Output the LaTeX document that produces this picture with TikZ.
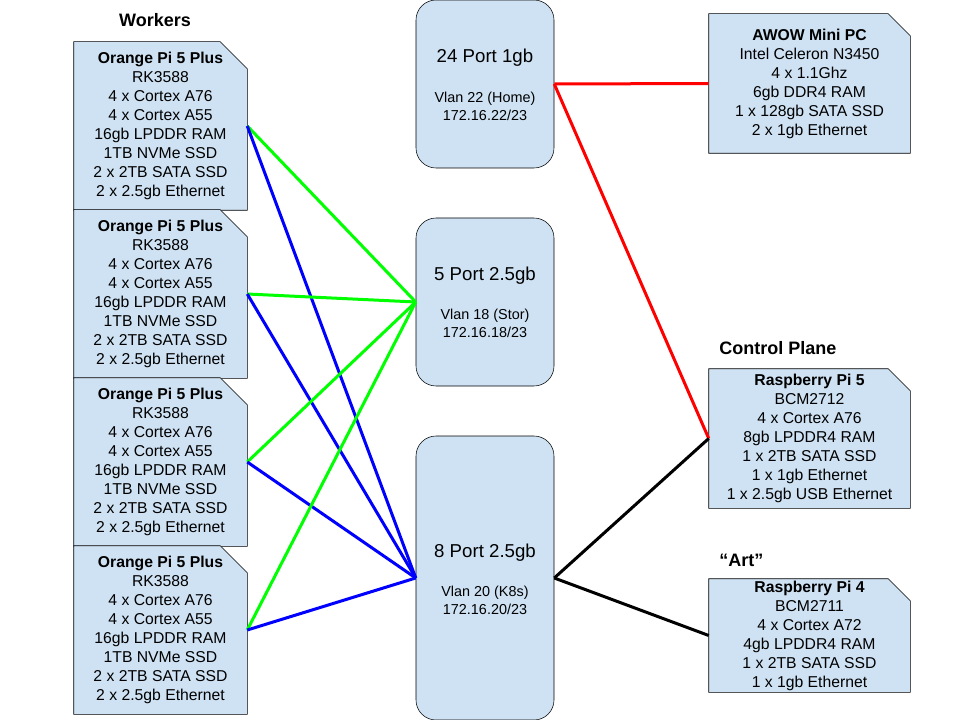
\documentclass[tikz,border=0pt]{standalone}
\usepackage{fontspec}
\setmainfont{Liberation Sans}
\usetikzlibrary{backgrounds}
\definecolor{cardblue}{HTML}{CFE2F3}
\definecolor{linkgreen}{HTML}{00FF00}
\definecolor{linkblue}{HTML}{0000FF}
\definecolor{linkred}{HTML}{FF0000}
\begin{document}
\begin{tikzpicture}
        [x=0.75pt, y=-0.75pt,
        card/.style={rectangle, inner sep=0pt, align=center, font=\fontsize{11.8}{14.25}\selectfont},
        cardLine/.style={draw, thin, fill=cardblue},
        worker/.style={card, minimum width=129.75pt, minimum height=126pt},
        host/.style={card, minimum width=150.75pt, minimum height=104.25pt},
        switch/.style={rectangle, rounded corners=15pt, draw, thin, fill=cardblue, minimum width=103.5pt, minimum height=126pt},
        switchTitle/.style={font=\fontsize{14}{17}\selectfont, inner sep=0pt},
        switchVlan/.style={font=\fontsize{10.8}{13.5}\selectfont, align=center, inner sep=0pt},
        heading/.style={font=\fontsize{13.5}{16}\selectfont\bfseries, inner sep=0pt},
        link/.style={line width=2.25pt}]
        \useasboundingbox (0,0) rectangle (960,720);

        % workers
        \node[heading] (workers) at (155,20) {Workers};
        \node[worker] (W1) at (160.5,126) {\textbf{Orange Pi 5 Plus}\\RK3588\\4 x Cortex A76\\4 x Cortex A55\\16gb LPDDR RAM\\1TB NVMe SSD\\2 x 2TB SATA SSD\\2 x 2.5gb Ethernet};
        \node[worker] (W2) at (160.5,294) {\textbf{Orange Pi 5 Plus}\\RK3588\\4 x Cortex A76\\4 x Cortex A55\\16gb LPDDR RAM\\1TB NVMe SSD\\2 x 2TB SATA SSD\\2 x 2.5gb Ethernet};
        \node[worker] (W3) at (160.5,462) {\textbf{Orange Pi 5 Plus}\\RK3588\\4 x Cortex A76\\4 x Cortex A55\\16gb LPDDR RAM\\1TB NVMe SSD\\2 x 2TB SATA SSD\\2 x 2.5gb Ethernet};
        \node[worker] (W4) at (160.5,630) {\textbf{Orange Pi 5 Plus}\\RK3588\\4 x Cortex A76\\4 x Cortex A55\\16gb LPDDR RAM\\1TB NVMe SSD\\2 x 2TB SATA SSD\\2 x 2.5gb Ethernet};

        % switches
        \node[switch] (S24) at (485,84) {};
        \node[switchTitle] (S24t) at (485,58) {24 Port 1gb};
        \node[switchVlan] (S24v) at (485,106) {Vlan 22 (Home)\\172.16.22/23};
        \node[switch] (S5) at (485,302) {};
        \node[switchTitle] (S5t) at (485,276) {5 Port 2.5gb};
        \node[switchVlan] (S5v) at (485,323) {Vlan 18 (Stor)\\172.16.18/23};
        \node[switch, minimum height=213pt] (S8) at (485,578) {};
        \node[switchTitle] (S8t) at (485,553) {8 Port 2.5gb};
        \node[switchVlan] (S8v) at (485,600.5) {Vlan 20 (K8s)\\172.16.20/23};

        % other hosts
        \node[host] (AWOW) at (809.5,83.5) {\textbf{AWOW Mini PC}\\Intel Celeron N3450\\4 x 1.1Ghz\\6gb DDR4 RAM\\1 x 128gb SATA SSD\\2 x 1gb Ethernet};
        \node[heading, anchor=west] (control) at (719,348) {Control Plane};
        \node[host] (RPi5) at (809.5,438.5) {\textbf{Raspberry Pi 5}\\BCM2712\\4 x Cortex A76\\8gb LPDDR4 RAM\\1 x 2TB SATA SSD\\1 x 1gb Ethernet\\1 x 2.5gb USB Ethernet};
        \node[heading, anchor=west] (art) at (719,560) {“Art”};
        \node[host, minimum height=84.75pt] (RPi4) at (809.5,635.5) {\textbf{Raspberry Pi 4}\\BCM2711\\4 x Cortex A72\\4gb LPDDR4 RAM\\1 x 2TB SATA SSD\\1 x 1gb Ethernet};

        % card outlines with the clipped corner
        \begin{scope}[on background layer]
            \foreach \c/\s in {W1/20.25pt,W2/20.25pt,W3/20.25pt,W4/20.25pt,AWOW/16.5pt,RPi5/16.5pt,RPi4/16.5pt}
                \draw[cardLine] (\c.north west) -- ([xshift=-\s]\c.north east) -- ([yshift=-\s]\c.north east) -- (\c.south east) -- (\c.south west) -- cycle;
        \end{scope}

        \foreach \w in {W1,W2,W3,W4} {
            \draw[link, linkgreen] (\w.east) -- (S5.west);
            \draw[link, linkblue] (\w.east) -- (S8.west);
        }
        \draw[link, linkred] (S24.east) -- (AWOW.west);
        \draw[link, linkred] (S24.east) -- (RPi5.west);
        \draw[link, black] (S8.east) -- (RPi5.west);
        \draw[link, black] (S8.east) -- (RPi4.west);

    \end{tikzpicture}
\end{document}
